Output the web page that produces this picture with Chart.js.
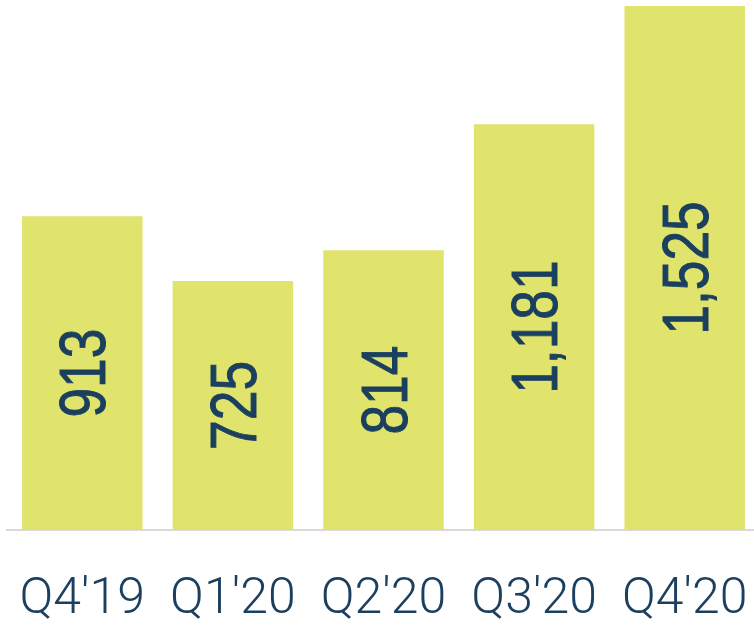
<!DOCTYPE html>
<html lang="en">

<head>
    <meta charset="UTF-8" />
    <title>Quarterly bars</title>
    <script src="https://cdn.jsdelivr.net/npm/chart.js"></script>
    <style>
        body {
            margin: 0;
            background: #fff;
            overflow: hidden;
        }
    </style>
</head>

<body>
    <canvas id="barChart" width="762" height="625"></canvas>

    <script>
        const quarters = ["Q4'19", "Q1'20", "Q2'20", "Q3'20", "Q4'20"];
        const values = [913, 725, 814, 1181, 1525];

        const barColor = '#e0e36c';
        const textColor = '#1b3f5e';

        // value labels drawn inside each bar, turned on their side
        const insideLabels = {
            id: 'insideLabels',
            afterDatasetsDraw(chart) {
                const ctx = chart.ctx;
                const bars = chart.getDatasetMeta(0).data;
                ctx.save();
                ctx.fillStyle = textColor;
                ctx.strokeStyle = textColor;
                ctx.lineWidth = 1;
                ctx.font = '65px "Liberation Sans", Arial, sans-serif';
                ctx.textAlign = 'center';
                ctx.textBaseline = 'alphabetic';
                bars.forEach((bar, i) => {
                    const mid = (bar.y + bar.base) / 2;
                    const txt = values[i].toLocaleString('en-US');
                    ctx.save();
                    ctx.translate(bar.x, mid);
                    ctx.rotate(-Math.PI / 2);
                    ctx.scale(0.82, 1);
                    ctx.fillText(txt, 0, 23);
                    ctx.strokeText(txt, 0, 23);
                    ctx.restore();
                });
                ctx.restore();
            }
        };

        new Chart(document.getElementById('barChart'), {
            type: 'bar',
            data: {
                labels: quarters,
                datasets: [{
                    data: values,
                    backgroundColor: barColor,
                    barPercentage: 0.8,
                    categoryPercentage: 1
                }]
            },
            options: {
                responsive: false,
                animation: false,
                layout: { padding: { top: 6, left: 7, right: 2, bottom: 2 } },
                plugins: {
                    legend: { display: false },
                    tooltip: { enabled: false }
                },
                scales: {
                    x: {
                        grid: { display: false, drawTicks: false },
                        border: { display: true, color: '#d9d9d9', width: 2 },
                        ticks: {
                            color: textColor,
                            padding: 43,
                            maxRotation: 0,
                            font: { family: '"Roboto Light", "Lato Light", Roboto, "Liberation Sans", sans-serif', size: 50, weight: 300, lineHeight: 1 }
                        },
                        afterFit(scale) {
                            scale.height = 93;
                            scale.paddingLeft = 0;
                            scale.paddingRight = 0;
                        }
                    },
                    y: {
                        display: false,
                        min: 0,
                        max: 1525
                    }
                }
            },
            plugins: [insideLabels]
        });
    </script>
</body>

</html>
